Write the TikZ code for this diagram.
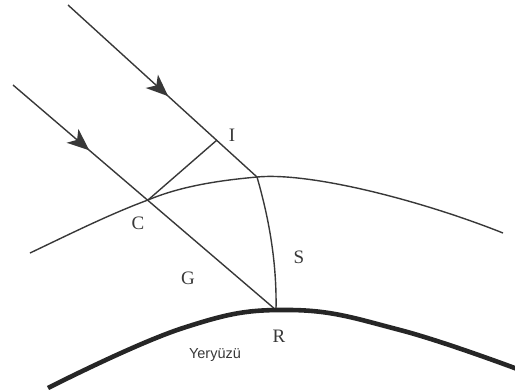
\documentclass[tikz,border=0pt]{standalone}
\usepackage{fontspec}
\setmainfont{Liberation Serif}
\newfontfamily\yerfont{Liberation Sans}
\usetikzlibrary{arrows.meta,decorations.markings}
\definecolor{ink}{HTML}{383838}
\definecolor{earthink}{HTML}{262626}
\tikzset{
  thinline/.style={draw=ink, line width=1.4pt},
  earthline/.style={draw=earthink, line width=4.6pt},
  lbl/.style={text=ink, font=\fontsize{19}{22}\selectfont, inner sep=0pt},
  yerlbl/.style={text=ink, font=\yerfont\fontsize{14.5}{17}\selectfont, inner sep=0pt},
  rayarrow/.style={thinline, postaction={decorate}, decoration={markings,
     mark=at position #1 with {\arrow{Stealth[length=22pt,width=18pt,inset=6pt,fill=ink]}}}}
}
\begin{document}
\begin{tikzpicture}[x=1pt,y=-1pt]
\useasboundingbox (0,0) rectangle (515,389);
% points
\coordinate (A1) at (68,5);
\coordinate (I) at (217,140);
\coordinate (P) at (257,177);
\coordinate (A2) at (13,85);
\coordinate (C) at (148,200);
\coordinate (R) at (276,310);
\coordinate (W1) at (30,253);
\coordinate (W2) at (503,233);
% rays
\draw[rayarrow=0.53] (A1) -- (P);
\draw[rayarrow=0.29] (A2) -- (R);
% perpendicular C-I
\draw[thinline] (C) -- (I);
% wavefront
\draw[thinline] (W1) .. controls (70,234) and (110,214) .. (C)
   .. controls (188,183) and (237,179) .. (P)
   .. controls (310,172) and (420,200) .. (W2);
% arc S
\draw[thinline] (P) .. controls (268,215) and (277,260) .. (R);
% earth
\draw[earthline] plot[smooth, tension=0.7] coordinates {(48,388) (183,328) (290,310) (400,330) (520,370)};
% labels
\node[lbl] (lI) at (232,135) {I};
\node[lbl] (lC) at (138,223) {C};
\node[lbl] (lG) at (188,278) {G};
\node[lbl] (lS) at (299,257) {S};
\node[lbl] (lR) at (279,336) {R};
\node[yerlbl] (lY) at (215,355) {Yeryüzü};
\end{tikzpicture}
\end{document}
